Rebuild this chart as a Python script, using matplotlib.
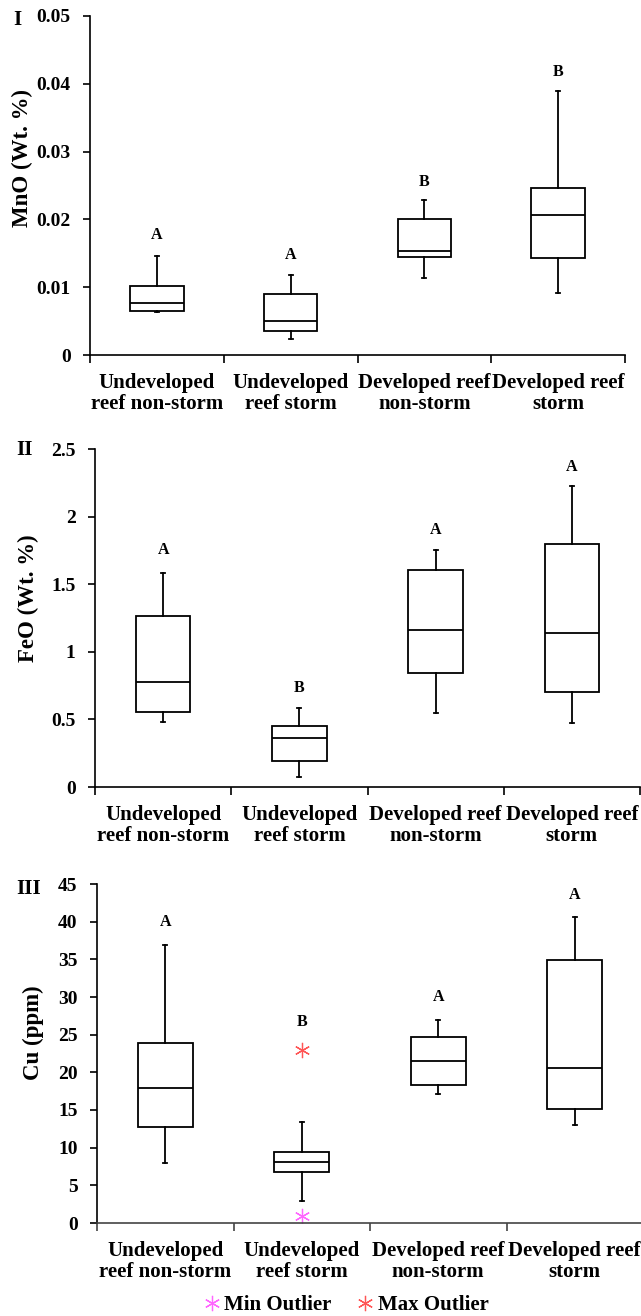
import matplotlib
matplotlib.use("Agg")
import matplotlib.pyplot as plt

plt.rcParams['font.family'] = ['Liberation Serif', 'DejaVu Serif']
plt.rcParams['font.weight'] = 'bold'

categories = ["Undeveloped\nreef non-storm", "Undeveloped\nreef storm",
              "Developed reef\nnon-storm", "Developed reef\nstorm"]

# Panel I: MnO (Wt. %)
mno_whislo = [0.0063, 0.0024, 0.0113, 0.0091]
mno_q1     = [0.0065, 0.0036, 0.01446, 0.0143]
mno_med    = [0.0077, 0.0050, 0.0154, 0.0206]
mno_q3     = [0.0102, 0.0090, 0.0200, 0.02456]
mno_whishi = [0.01466, 0.0118, 0.0229, 0.0390]
mno_letters = ["A", "A", "B", "B"]
mno_letter_y = [0.0177, 0.0147, 0.0255, 0.0417]
mno_ticks = [0, 0.01, 0.02, 0.03, 0.04, 0.05]
mno_ticklabels = ["0", "0.01", "0.02", "0.03", "0.04", "0.05"]

# Panel II: FeO (Wt. %)
feo_whislo = [0.478, 0.076, 0.549, 0.473]
feo_q1     = [0.554, 0.189, 0.846, 0.699]
feo_med    = [0.779, 0.365, 1.162, 1.142]
feo_q3     = [1.265, 0.451, 1.605, 1.797]
feo_whishi = [1.586, 0.588, 1.755, 2.223]
feo_letters = ["A", "B", "A", "A"]
feo_letter_y = [1.75, 0.735, 1.90, 2.37]
feo_ticks = [0, 0.5, 1, 1.5, 2, 2.5]
feo_ticklabels = ["0", "0.5", "1", "1.5", "2", "2.5"]

# Panel III: Cu (ppm)
cu_whislo = [7.96, 2.92, 17.06, 12.95]
cu_q1     = [12.73, 6.81, 18.26, 15.07]
cu_med    = [17.95, 8.09, 21.49, 20.56]
cu_q3     = [23.96, 9.42, 24.67, 34.97]
cu_whishi = [36.96, 13.4, 27.0, 40.58]
cu_letters = ["A", "B", "A", "A"]
cu_letter_y = [39.9, 26.7, 30.06, 43.5]
cu_ticks = [0, 5, 10, 15, 20, 25, 30, 35, 40, 45]
cu_ticklabels = ["0", "5", "10", "15", "20", "25", "30", "35", "40", "45"]
cu_min_outlier_cat = [2]
cu_min_outlier_val = [0.97]
cu_max_outlier_cat = [2]
cu_max_outlier_val = [22.99]

W, H = 641, 1316
fig = plt.figure(figsize=(W / 100, H / 100), dpi=100)


def make_axes(left, right, top, bottom):
    return fig.add_axes([left / W, 1 - bottom / H, (right - left) / W, (bottom - top) / H])


def draw_panel(ax, whislo, q1, med, q3, whishi, letters, letter_y, ticks, ticklabels,
               ymax, ylabel, label_xy, axis_color='black'):
    stats = []
    for i in range(len(categories)):
        stats.append(dict(whislo=whislo[i], q1=q1[i], med=med[i], q3=q3[i],
                          whishi=whishi[i], fliers=[]))
    pos = list(range(1, len(categories) + 1))
    ax.bxp(stats, positions=pos, widths=0.4, showfliers=False, patch_artist=True,
           capwidths=0.03,
           boxprops=dict(facecolor='white', edgecolor='black', linewidth=1.3),
           medianprops=dict(color='black', linewidth=1.3),
           whiskerprops=dict(color='black', linewidth=1.3),
           capprops=dict(color='black', linewidth=1.3))
    for p, t, y in zip(pos, letters, letter_y):
        ax.text(p, y, t, ha='center', va='center', fontsize=11.5, fontweight='bold')
    ax.set_xlim(0.5, len(categories) + 0.5)
    ax.set_ylim(0, ymax)
    ax.set_yticks(ticks)
    ax.set_yticklabels(ticklabels)
    ax.set_xticks([0.5 + i for i in range(len(categories) + 1)])
    ax.set_xticklabels([])
    ax.set_xticks(pos, minor=True)
    ax.set_xticklabels(categories, minor=True, fontsize=15, fontweight='bold',
                       linespacing=1.08)
    ax.tick_params(axis='x', which='minor', length=0, pad=13)
    ax.tick_params(axis='x', which='major', direction='out', length=6, width=1.2,
                   color=axis_color)
    ax.tick_params(axis='y', direction='out', length=5, width=1.2, pad=9,
                   labelsize=14)
    for lab in ax.get_yticklabels():
        lab.set_fontweight('bold')
    ax.spines['top'].set_visible(False)
    ax.spines['right'].set_visible(False)
    ax.spines['left'].set_linewidth(1.2)
    ax.spines['bottom'].set_linewidth(1.2)
    ax.spines['bottom'].set_color(axis_color)
    ax.set_ylabel(ylabel, fontsize=16.5, fontweight='bold')
    ax.yaxis.label.set_verticalalignment('center')
    ax.yaxis.set_label_coords(*label_xy)
    return pos


ax1 = make_axes(90, 625, 16, 355)
draw_panel(ax1, mno_whislo, mno_q1, mno_med, mno_q3, mno_whishi, mno_letters,
           mno_letter_y, mno_ticks, mno_ticklabels, 0.05, "MnO (Wt. %)", (-0.127, 0.58))

ax2 = make_axes(95, 640, 449, 787)
draw_panel(ax2, feo_whislo, feo_q1, feo_med, feo_q3, feo_whishi, feo_letters,
           feo_letter_y, feo_ticks, feo_ticklabels, 2.5, "FeO (Wt. %)", (-0.123, 0.56))

ax3 = make_axes(97, 643, 884, 1223)
draw_panel(ax3, cu_whislo, cu_q1, cu_med, cu_q3, cu_whishi, cu_letters,
           cu_letter_y, cu_ticks, cu_ticklabels, 45, "Cu (ppm)", (-0.117, 0.56),
           axis_color='#444444')

star = (6, 2, 0)
h_min = ax3.plot(cu_min_outlier_cat, cu_min_outlier_val, linestyle='none', marker=star,
                 markersize=11, markeredgewidth=0.9, color='#FF66FF', label='Min Outlier')[0]
h_max = ax3.plot(cu_max_outlier_cat, cu_max_outlier_val, linestyle='none', marker=star,
                 markersize=11, markeredgewidth=0.9, color='#FF5555', label='Max Outlier')[0]

fig.legend(handles=[h_min, h_max], loc='center', bbox_to_anchor=(345 / W, 1 - 1305 / H),
           ncol=2, frameon=False, prop=dict(family='Liberation Serif', weight='bold', size=15),
           handletextpad=0.1, columnspacing=1.1, handlelength=1.0, borderpad=0)

fig.text(13 / W, 1 - 10 / H, "I", ha='left', va='top', fontsize=15, fontweight='bold')
fig.text(16 / W, 1 - 440 / H, "II", ha='left', va='top', fontsize=15, fontweight='bold')
fig.text(16 / W, 1 - 879 / H, "III", ha='left', va='top', fontsize=15, fontweight='bold')

fig.savefig("out.png", dpi=100, facecolor='white')
